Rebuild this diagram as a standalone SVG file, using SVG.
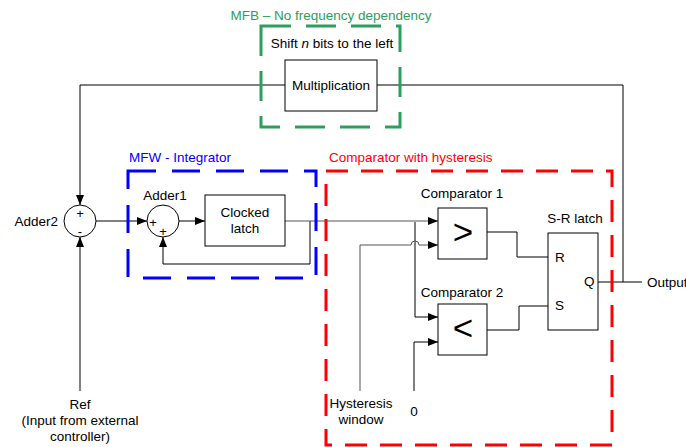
<svg xmlns="http://www.w3.org/2000/svg" width="686" height="447" viewBox="0 0 686 447">
<style>
text{font-family:"Liberation Sans",Arial,sans-serif;font-size:13.5px;fill:#000}
.c{text-anchor:middle}
.sym{font-size:13px}
.big{font-size:35px}
.box{fill:#fff;stroke:#000;stroke-width:1}
.w{fill:none;stroke:#000;stroke-width:1}
.g{fill:none;stroke:#555;stroke-width:1}
.dg{fill:none;stroke:#2e9e5e;stroke-width:3;stroke-dasharray:30 15}
.db{fill:none;stroke:#0000ff;stroke-width:3;stroke-dasharray:28 16}
.dr{fill:none;stroke:#ff0000;stroke-width:3;stroke-dasharray:22 13}
</style>
<defs>
<marker id="ar" viewBox="0 0 10 8" refX="10" refY="4" markerWidth="10" markerHeight="8" markerUnits="userSpaceOnUse" orient="auto">
<path d="M0,0 L10,4 L0,8 z" fill="#000"/>
</marker>
</defs>
<rect width="686" height="447" fill="#fff"/>

<g id="connectors">
<path class="w" d="M623,282 V85 H377"/>
<path class="w" d="M285,85 H80 V205" marker-end="url(#ar)"/>
<path class="w" d="M80,391 V237" marker-end="url(#ar)"/>
<path class="w" d="M96,221 H147" marker-end="url(#ar)"/>
<path class="w" d="M179,221 H205" marker-end="url(#ar)"/>
<path class="w" d="M310,221 V264 H163 V237" marker-end="url(#ar)"/>
<path class="g" d="M285,221 H438" marker-end="url(#ar)"/>
<path class="w" d="M415,222 V317 H438" marker-end="url(#ar)"/>
<path class="g" d="M360,391 V245 H411 A4,4 0 0 1 419,245 H438" marker-end="url(#ar)"/>
<path class="w" d="M414,391 V342 H438" marker-end="url(#ar)"/>
<path class="w" d="M487,232 H517 V257 H548"/>
<path class="w" d="M487,330 H519 V306 H548"/>
<path class="w" d="M598,282 H642"/>
</g>

<g id="mfb-group">
<rect class="dg" x="261" y="26" width="139" height="101"/>
<text x="331" y="20" class="c" style="fill:#2e9e5e">MFB – No frequency dependency</text>
<text x="332" y="48" class="c">Shift <tspan font-style="italic">n</tspan> bits to the left</text>
</g>

<g id="mfw-group">
<rect class="db" x="128" y="171" width="188" height="107"/>
<text x="129" y="162" style="fill:#0000ff">MFW - Integrator</text>
</g>

<g id="comparator-group">
<rect class="dr" x="326" y="171" width="286" height="274"/>
<text x="329" y="162" style="fill:#ff0000">Comparator with hysteresis</text>
</g>

<g id="multiplication">
<rect class="box" x="285" y="60" width="92" height="51"/>
<text x="331" y="90" class="c">Multiplication</text>
</g>

<g id="adder2">
<circle class="box" cx="80" cy="221" r="16"/>
<text x="80" y="217.5" class="c sym">+</text>
<text x="80" y="236" class="c sym">-</text>
<text x="58" y="226" text-anchor="end">Adder2</text>
</g>

<g id="adder1">
<circle class="box" cx="163" cy="221" r="16"/>
<text x="153" y="226.5" class="c sym">+</text>
<text x="163" y="235.5" class="c sym">+</text>
<text x="165" y="200" class="c">Adder1</text>
</g>

<g id="clocked-latch">
<rect class="box" x="205" y="195" width="80" height="51"/>
<text x="245" y="217" class="c">Clocked</text>
<text x="245" y="233" class="c">latch</text>
</g>

<g id="comparator1">
<rect class="box" x="438" y="208" width="49" height="51"/>
<text x="463" y="243.5" class="c big">&gt;</text>
<text x="462" y="198" class="c">Comparator 1</text>
</g>

<g id="comparator2">
<rect class="box" x="438" y="304" width="49" height="51"/>
<text x="463" y="339.5" class="c big">&lt;</text>
<text x="462" y="297" class="c">Comparator 2</text>
</g>

<g id="sr-latch">
<rect class="box" x="548" y="233" width="50" height="97"/>
<text x="555" y="262">R</text>
<text x="555" y="310">S</text>
<text x="584" y="286">Q</text>
<text x="575" y="223" class="c">S-R latch</text>
</g>

<g id="ref-input">
<text x="80" y="409" class="c">Ref</text>
<text x="80" y="425" class="c">(Input from external</text>
<text x="80" y="441" class="c">controller)</text>
</g>

<g id="hysteresis-input">
<text x="361" y="408" class="c">Hysteresis</text>
<text x="361" y="424" class="c">window</text>
</g>

<g id="zero-input">
<text x="414" y="416" class="c">0</text>
</g>

<g id="output">
<text x="647" y="287">Output</text>
</g>
</svg>
